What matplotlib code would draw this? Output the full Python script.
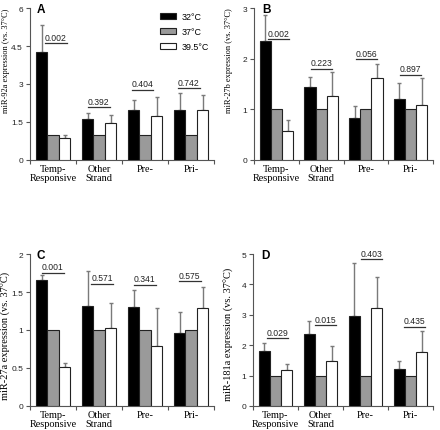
import matplotlib
matplotlib.use("Agg")
import matplotlib.pyplot as plt
from matplotlib.patches import Patch
import numpy as np

categories = ["Temp-\nResponsive", "Other\nStrand", "Pre-", "Pri-"]
temps = ["32°C", "37°C", "39.5°C"]

# Panel A: miR-92a
a_black = [4.25, 1.60, 1.99, 1.97]
a_black_err = [1.09, 0.24, 0.37, 0.69]
a_gray = [1.0, 1.0, 1.0, 1.0]
a_white = [0.855, 1.45, 1.72, 1.97]
a_white_err = [0.145, 0.33, 0.77, 0.60]
a_p = ["0.002", "0.392", "0.404", "0.742"]
a_p_y = [4.6, 2.08, 2.78, 2.83]
a_p_x = [0.33, 1.26, 2.21, 3.22]

# Panel B: miR-27b
b_black = [2.34, 1.45, 0.83, 1.20]
b_black_err = [0.53, 0.19, 0.24, 0.32]
b_gray = [1.0, 1.0, 1.0, 1.0]
b_white = [0.57, 1.26, 1.61, 1.09]
b_white_err = [0.21, 0.48, 0.28, 0.52]
b_p = ["0.002", "0.223", "0.056", "0.897"]
b_p_y = [2.38, 1.80, 1.99, 1.68]
b_p_x = [0.31, 1.27, 2.27, 3.27]

# Panel C: miR-27a
c_black = [1.66, 1.32, 1.30, 0.96]
c_black_err = [0.06, 0.45, 0.23, 0.28]
c_gray = [1.0, 1.0, 1.0, 1.0]
c_white = [0.51, 1.02, 0.79, 1.29]
c_white_err = [0.05, 0.33, 0.50, 0.28]
c_p = ["0.001", "0.571", "0.341", "0.575"]
c_p_y = [1.75, 1.61, 1.59, 1.64]
c_p_x = [0.26, 1.33, 2.26, 3.24]

# Panel D: miR-181a
d_black = [1.82, 2.37, 2.96, 1.21]
d_black_err = [0.25, 0.43, 1.76, 0.28]
d_gray = [1.0, 1.0, 1.0, 1.0]
d_white = [1.19, 1.48, 3.21, 1.79]
d_white_err = [0.19, 0.48, 1.04, 0.69]
d_p = ["0.029", "0.015", "0.403", "0.435"]
d_p_y = [2.23, 2.65, 4.83, 2.60]
d_p_x = [0.31, 1.38, 2.40, 3.36]

SANS = ["Liberation Sans", "DejaVu Sans"]
SERIF = ["Liberation Serif", "DejaVu Serif"]
BAR_COLORS = ["#000000", "#9a9a9a", "#ffffff"]
EDGE = "#222222"
ERRC = "#7a7a7a"
AXC = "#555555"

fig = plt.figure(figsize=(4.40, 4.31), dpi=100)
W, H = 440.0, 431.0

def add_ax(left, right, top, bottom):
    return fig.add_axes([left / W, 1 - bottom / H, (right - left) / W, (bottom - top) / H])

# (letter, ylabel, axes, ymax, ticks, ticklabels, ylabel size, ylabel x px, ylabel y frac, letter x frac)
panels = [
    ("A", "miR-92a expression (vs. 37°C)", add_ax(30, 214, 9, 161), 6, np.arange(0, 6.01, 1.5), ["0", "1.5", "3", "4.5", "6"],
     6.0, 6.5, 0.66, 0.038,
     a_black, a_black_err, a_gray, a_white, a_white_err, a_p, a_p_y, a_p_x),
    ("B", "miR-27b expression (vs. 37°C)", add_ax(254, 433, 9, 161), 3, np.arange(0, 3.01, 1), ["0", "1", "2", "3"],
     6.0, 229, 0.66, 0.045,
     b_black, b_black_err, b_gray, b_white, b_white_err, b_p, b_p_y, b_p_x),
    ("C", "miR-27a expression (vs. 37°C)", add_ax(30, 214, 255, 407), 2, np.arange(0, 2.01, 0.5), ["0", "0.5", "1", "1.5", "2"],
     7.5, 6.0, 0.467, 0.033,
     c_black, c_black_err, c_gray, c_white, c_white_err, c_p, c_p_y, c_p_x),
    ("D", "miR-181a expression (vs. 37°C)", add_ax(253, 433, 255, 407), 5, np.arange(0, 5.01, 1), ["0", "1", "2", "3", "4", "5"],
     7.5, 229, 0.48, 0.045,
     d_black, d_black_err, d_gray, d_white, d_white_err, d_p, d_p_y, d_p_x),
]

x = np.arange(len(categories))
bw = 0.25
for (letter, ylabel, ax, ymax, yt, ytl, ylsize, ylx, yly, lx,
     blk, blk_e, gry, wht, wht_e, pv, pv_y, pv_x) in panels:
    offsets = [0.25, 0.5, 0.75]
    vals = [blk, gry, wht]
    errs = [blk_e, None, wht_e]
    for k in range(3):
        pos = x + offsets[k]
        ax.bar(pos, vals[k], width=bw, color=BAR_COLORS[k], edgecolor=EDGE, linewidth=0.8, zorder=3)
        if errs[k] is not None:
            ax.errorbar(pos, vals[k], yerr=[np.zeros(len(pos)), errs[k]], fmt="none",
                        ecolor=ERRC, elinewidth=1.0, capsize=1.6, capthick=1.0, zorder=2)
    for i in range(len(categories)):
        ax.plot([pv_x[i], pv_x[i] + 0.47], [pv_y[i], pv_y[i]], color="#333333", lw=0.9, zorder=4)
        ax.annotate(pv[i], (pv_x[i] + 0.235, pv_y[i]), xytext=(0, 1.2), textcoords="offset points",
                    ha="center", va="bottom", fontsize=6.2, family=SANS, color="#222222")
    ax.set_xlim(0, 4)
    ax.set_ylim(0, ymax)
    ax.set_yticks(yt)
    ax.set_yticklabels(ytl, family=SANS, fontsize=6, color="#222222")
    ax.set_xticks(np.arange(0, 5))
    ax.set_xticklabels([])
    ax.set_xticks(x + 0.5, minor=True)
    ax.set_xticklabels(categories, minor=True, family=SERIF, fontsize=7.4, linespacing=0.95)
    ax.tick_params(axis="x", which="minor", length=0, pad=3)
    ax.tick_params(axis="x", which="major", length=3, color=AXC, width=0.8)
    ax.tick_params(axis="y", length=3, color=AXC, width=0.8, pad=2)
    for s in ["top", "right"]:
        ax.spines[s].set_visible(False)
    for s in ["left", "bottom"]:
        ax.spines[s].set_color(AXC)
        ax.spines[s].set_linewidth(0.8)
    ax.set_ylabel(ylabel, family=SERIF, fontsize=ylsize, va="center")
    bb = ax.get_position()
    ax_left_px = bb.x0 * W
    ax_w_px = bb.width * W
    ax.yaxis.set_label_coords((ylx - ax_left_px) / ax_w_px, yly)
    ax.text(lx, 1.03, letter, transform=ax.transAxes, fontsize=8.5, fontweight="bold",
            family=SANS, va="top", ha="left")

axA = panels[0][2]
handles = [Patch(facecolor=c, edgecolor=EDGE, linewidth=0.8) for c in BAR_COLORS]
axA.legend(handles, temps, loc="upper left", bbox_to_anchor=(154 / W, 1 - 7 / H),
           bbox_transform=fig.transFigure, frameon=False, prop={"family": SANS, "size": 6.4},
           handlelength=1.75, handleheight=0.65, labelspacing=0.65, handletextpad=0.65, borderpad=0.2)

fig.savefig("out.png", dpi=100)
